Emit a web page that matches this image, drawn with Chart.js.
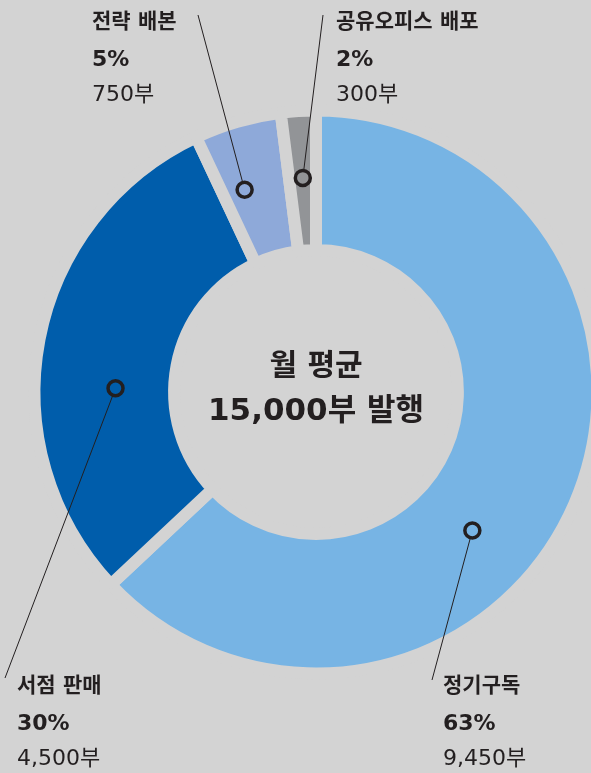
<!DOCTYPE html>
<html lang="ko">
<head>
<meta charset="utf-8">
<title>월 평균 발행 부수</title>
<script src="https://cdn.jsdelivr.net/npm/chart.js@4"></script>
<style>
  html, body { margin: 0; padding: 0; background: #d3d3d3; }
  canvas { display: block; }
</style>
</head>
<body>
<canvas id="issueChart" width="591" height="773"></canvas>
<script>
const categories = ["정기구독", "서점 판매", "전략 배본", "공유오피스 배포"];
const copies = [9450, 4500, 750, 300];
const shares = [63, 30, 5, 2];
const centerLines = ["월 평균", "15,000부 발행"];

const BG = "#d3d3d3";
const sliceColors = ["#77b4e4", "#005dab", "#8ea9d9", "#929497"];
const INK = "#231f20";
const FONT = '"DejaVu Sans", "Noto Sans CJK KR", sans-serif';

// where each ring marker sits in its slice: share of the sweep, share of the ring width
const markerSpots = [[0.58, 0.48], [0.41, 0.42], [0.32, 0.52], [0.51, 0.52]];
// far end of each leader line and the left/baseline of each label block
const leaderEnds = [[432, 680], [5, 678], [198, 15], [323, 15]];
const labelSpots = [[443, 692], [17, 692], [92, 28], [336, 28]];

const callouts = {
    id: "callouts",
    afterDatasetsDraw(chart) {
        const ctx = chart.ctx;
        const arcs = chart.getDatasetMeta(0).data;
        ctx.save();

        arcs.forEach(function (arc, i) {
            const p = arc.getProps(["x", "y", "startAngle", "endAngle", "innerRadius", "outerRadius"], true);
            const a = p.startAngle + (p.endAngle - p.startAngle) * markerSpots[i][0];
            const r = p.innerRadius + (p.outerRadius - p.innerRadius) * markerSpots[i][1];
            const mx = p.x + Math.cos(a) * r;
            const my = p.y + Math.sin(a) * r;

            ctx.strokeStyle = INK;
            ctx.lineWidth = 1;
            ctx.beginPath();
            ctx.moveTo(mx, my);
            ctx.lineTo(leaderEnds[i][0], leaderEnds[i][1]);
            ctx.stroke();

            ctx.beginPath();
            ctx.arc(mx, my, 7.5, 0, Math.PI * 2);
            ctx.fillStyle = sliceColors[i];
            ctx.fill();
            ctx.lineWidth = 3.5;
            ctx.stroke();

            const lx = labelSpots[i][0];
            const ly = labelSpots[i][1];
            ctx.fillStyle = INK;
            ctx.textAlign = "left";
            ctx.textBaseline = "alphabetic";
            ctx.font = "bold 21px " + FONT;
            ctx.fillText(categories[i], lx, ly);
            ctx.font = "bold 22px " + FONT;
            ctx.fillText(shares[i] + "%", lx, ly + 38);
            ctx.font = "22px " + FONT;
            ctx.fillText(copies[i].toLocaleString("en-US") + "부", lx, ly + 73);
        });

        const c = arcs[0];
        ctx.fillStyle = INK;
        ctx.textAlign = "center";
        ctx.font = "bold 30px " + FONT;
        ctx.fillText(centerLines[0], c.x, c.y - 17);
        ctx.font = "bold 31px " + FONT;
        ctx.fillText(centerLines[1], c.x, c.y + 28);
        ctx.restore();
    }
};

new Chart(document.getElementById("issueChart"), {
    type: "doughnut",
    data: {
        labels: categories,
        datasets: [{
            data: copies,
            backgroundColor: sliceColors,
            // a thick border in the page colour opens the even gaps between slices
            borderColor: BG,
            borderWidth: 12,
            clip: false
        }]
    },
    options: {
        responsive: false,
        animation: false,
        radius: 281.5,
        cutout: "50.4%",
        layout: { padding: { left: 41, right: 0, top: 11, bottom: 0 } },
        plugins: {
            legend: { display: false },
            tooltip: { enabled: false }
        }
    },
    plugins: [callouts]
});
</script>
</body>
</html>
